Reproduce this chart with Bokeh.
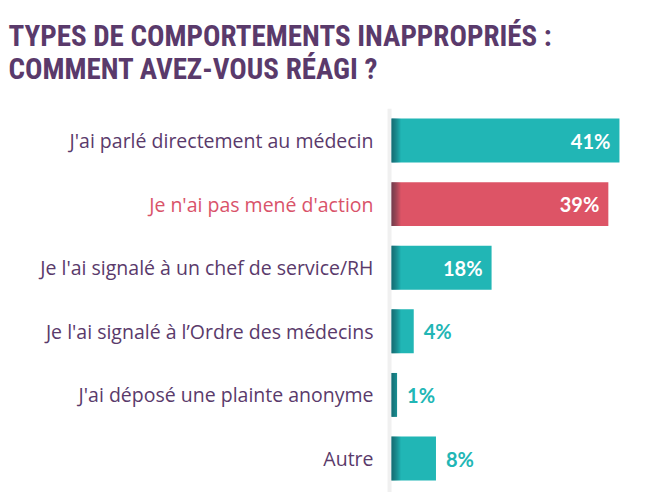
from bokeh.plotting import figure
from bokeh.models import Range1d, Label, ColumnDataSource
from bokeh.core.properties import value
from bokeh.embed import file_html
from bokeh.resources import INLINE

# ---- data ----
categories = [
    "J'ai parlé directement au médecin",
    "Je n'ai pas mené d'action",
    "Je l'ai signalé à un chef de service/RH",
    "Je l'ai signalé à l\u2019Ordre des médecins",
    "J'ai déposé une plainte anonyme",
    "Autre",
]
values = [41, 39, 18, 4, 1, 8]
highlight = [False, True, False, False, False, False]
title_lines = ["TYPES DE COMPORTEMENTS INAPPROPRIÉS :", "COMMENT AVEZ-VOUS RÉAGI ?"]

# ---- style ----
TEAL = "#21b6b5"
RED = "#dd5466"
PURPLE = "#5a3a6b"
RED_TXT = "#d9536a"
W, H = 657, 492
PX_PER_UNIT = 5.56
BAND = 63.6

x0_px = 391
first_center_px = 140
x_start = -x0_px / PX_PER_UNIT
x_end = (W - x0_px) / PX_PER_UNIT
y_top = -first_center_px / BAND
y_bottom = (H - first_center_px) / BAND

p = figure(width=W, height=H, output_backend="svg", toolbar_location=None,
           x_range=Range1d(x_start, x_end), y_range=Range1d(y_bottom, y_top),
           min_border=0, min_border_left=0, min_border_right=0,
           min_border_top=0, min_border_bottom=0)
p.xaxis.visible = False
p.yaxis.visible = False
p.xgrid.visible = False
p.ygrid.visible = False
p.outline_line_color = None
p.background_fill_color = "white"
p.border_fill_color = "white"

ys = list(range(len(categories)))
bar_colors = [RED if h else TEAL for h in highlight]
label_colors = [RED_TXT if h else PURPLE for h in highlight]
inside = [v >= 10 for v in values]
val_text = [f"{v}%" for v in values]
val_colors = ["white" if i else TEAL for i in inside]
val_align = ["right" if i else "left" for i in inside]
val_off = [-9 if i else 10 for i in inside]

# faint vertical shadow line along the bar baseline
p.segment(x0=[-0.35], x1=[-0.35], y0=[ys[0] - 0.5], y1=[ys[-1] + 0.8],
          line_color="#f0f0f0", line_width=4)

src = ColumnDataSource(dict(y=ys, v=values, left=[0] * len(values), c=bar_colors,
                            cat=categories, lc=label_colors, vt=val_text,
                            vc=val_colors, va=val_align, vo=val_off))

BAR_H = 0.69
p.hbar(y="y", left="left", right="v", height=BAR_H, fill_color="c",
       line_color=None, source=src)

# left-edge shadow on bars
for k in range(1, 10):
    px = k / PX_PER_UNIT
    p.hbar(y=ys, left=[0] * len(values), right=[min(px, v) for v in values],
           height=BAR_H, fill_color="#0b2a35", fill_alpha=0.07, line_color=None)

# category labels
p.text(x="left", y="y", text="cat", source=src, text_color="lc",
       text_align="right", text_baseline="middle", x_offset=-18,
       text_font=value("Open Sans"), text_font_size="19.5px")

# value labels
p.text(x="v", y="y", text="vt", source=src, text_color="vc",
       text_align="va", x_offset="vo", text_baseline="middle",
       text_font=value("Lato"), text_font_style="bold", text_font_size="20px")

# title
title_font = "'Roboto Condensed', Roboto"
for i, line in enumerate(title_lines):
    p.add_layout(Label(x=8, y=H - 35 - i * 33, x_units="screen", y_units="screen",
                       text=line, text_color=PURPLE, text_font=title_font,
                       text_font_style="bold", text_font_size="29px",
                       text_baseline="alphabetic"))

open("out.html", "w").write(file_html(p, INLINE))
